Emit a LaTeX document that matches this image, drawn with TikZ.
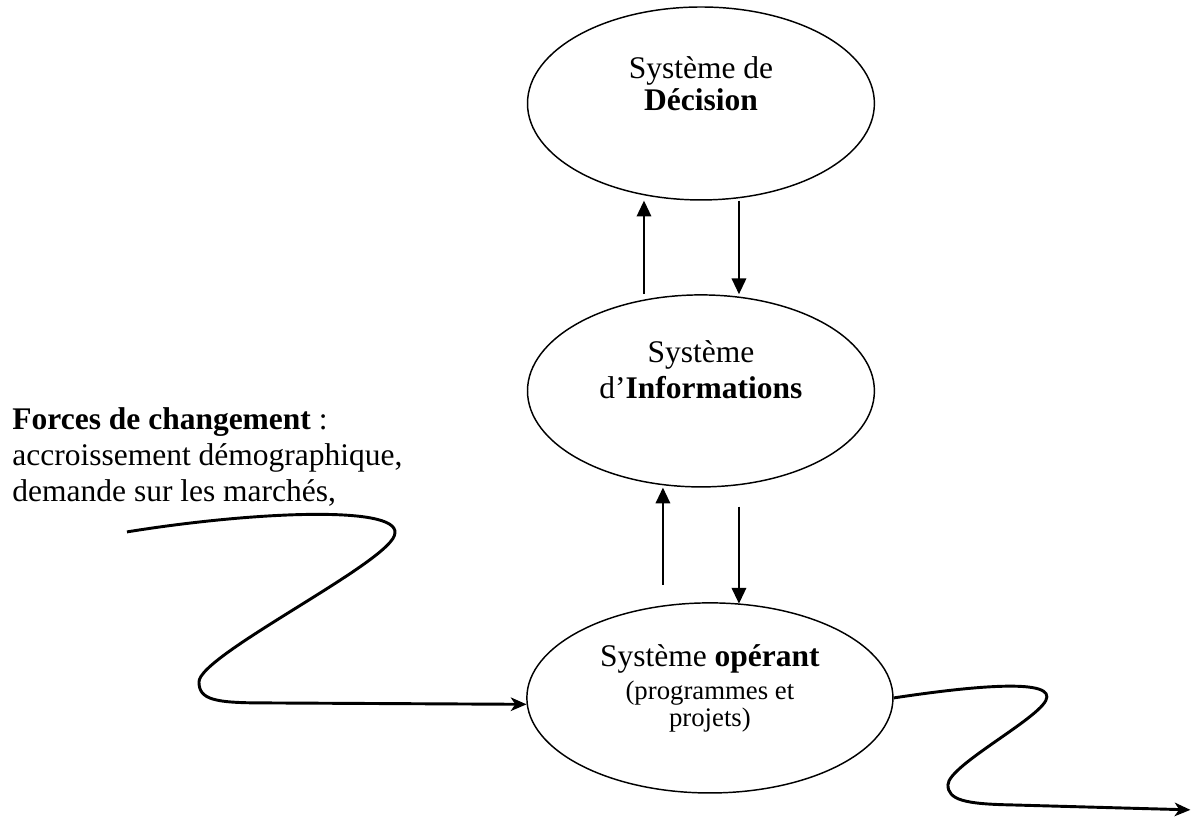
\documentclass[tikz,border=0pt]{standalone}
\usepackage{fontspec}
\setmainfont{Liberation Serif}
\usetikzlibrary{shapes.geometric,arrows.meta}

\begin{document}
\begin{tikzpicture}[
  sys/.style={draw=black, ellipse, line width=0.65pt, inner sep=0pt},
  lab/.style={align=center, anchor=base, inner sep=0pt, font=\fontsize{14}{14.2}\selectfont},
  flow/.style={line width=0.65pt, -{Triangle[length=7pt,width=6.5pt]}},
  wave/.style={line width=1.3pt, -{Stealth[length=7pt,width=6pt,inset=2pt]}}
]
  \useasboundingbox (0,0) rectangle (18.64,12.795);

  % the three systems
  \node[sys, minimum width=5.42cm, minimum height=3.015cm] (dec) at (10.952,11.178) {};
  \node[sys, minimum width=5.42cm, minimum height=3.0cm] (info) at (10.952,6.687) {};
  \node[sys, minimum width=5.72cm, minimum height=2.97cm] (ops) at (11.092,1.890) {};

  \node[lab] (dectext) at ([yshift=-0.102cm]dec.center) {Système de\\\textbf{Décision}};
  \node[lab] (infotext) at ([yshift=-0.125cm]info.center) {Système\\[1.8pt]d’\textbf{Informations}};
  \node[lab] (opstext) at ([yshift=0.485cm]ops.center) {Système \textbf{opérant}};
  \node[lab, font=\fontsize{11.9}{12.4}\selectfont] (opsnote) at ([yshift=-0.453cm]ops.center) {(programmes et\\projets)};

  \node[lab, align=left, anchor=base west, font=\fontsize{14}{16}\selectfont] (forces) at (0.1875,4.953)
    {\textbf{Forces de changement} :\\accroissement démographique,\\demande sur les marchés,};

  % arrows between the systems
  \draw[flow] ([xshift=-0.89cm]info.north) -- ([xshift=-0.89cm]dec.south);
  \draw[flow] ([xshift=0.594cm]dec.south) -- ([xshift=0.594cm]info.north);
  \draw[flow] ([xshift=-0.594cm,yshift=-1.515cm]info.south) -- ([xshift=-0.594cm]info.south);
  \draw[flow] ([xshift=0.594cm,yshift=-0.297cm]info.south) -- ([xshift=0.594cm,yshift=-1.812cm]info.south);

  % forces in and out
  \coordinate (forcein) at (1.984,4.484);
  \coordinate (forceout) at (18.60,0.141);
  \draw[wave] (forcein) .. controls (3.906,4.796) and (6.218,4.906) .. (6.171,4.468)
    .. controls (6.171,4.046) and (3.109,2.562) .. (3.109,2.140)
    .. controls (3.109,1.859) and (3.359,1.812) .. (4.140,1.812)
    -- (ops.182);
  \draw[wave] (ops.east) .. controls (14.998,2.047) and (16.373,2.203) .. (16.357,1.906)
    .. controls (16.357,1.625) and (14.811,0.844) .. (14.811,0.531)
    .. controls (14.811,0.297) and (15.076,0.234) .. (15.779,0.219)
    -- (forceout);

\end{tikzpicture}
\end{document}
